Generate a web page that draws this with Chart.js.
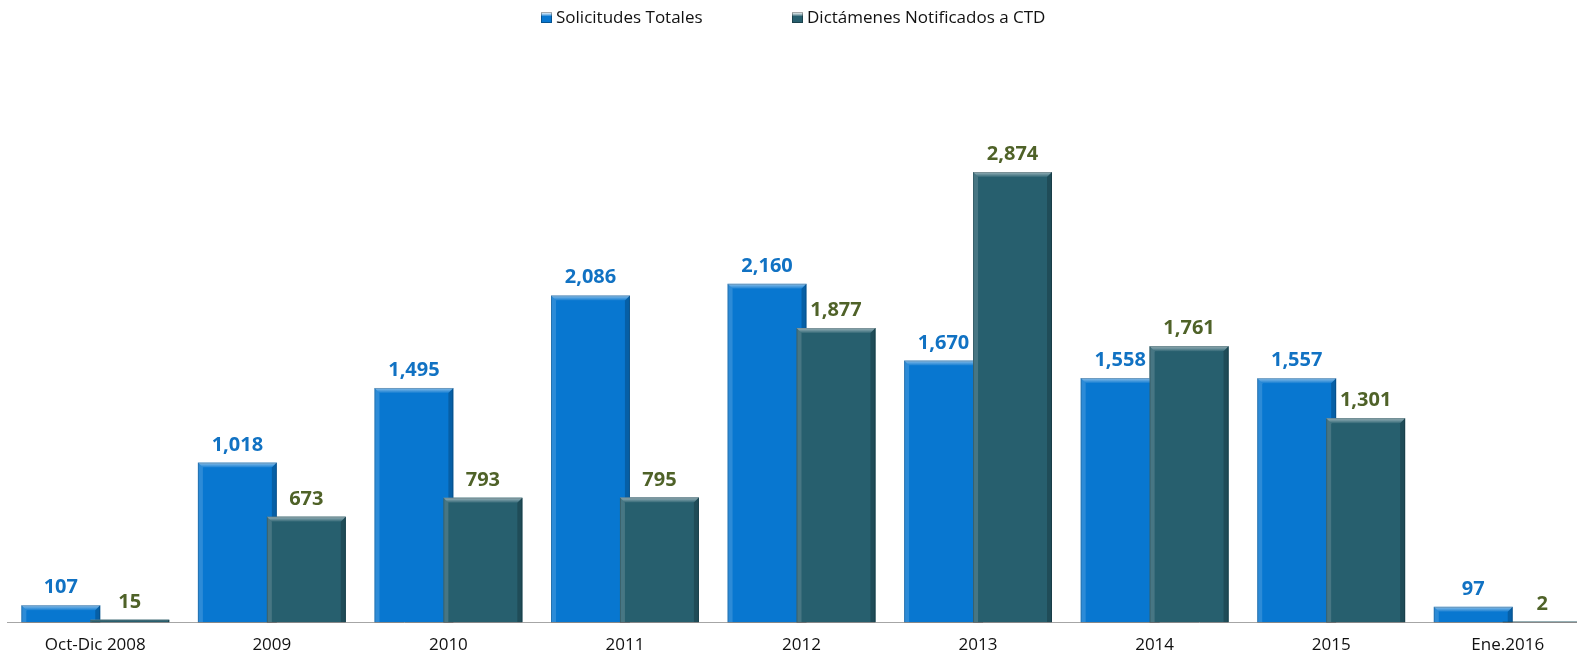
<!DOCTYPE html>
<html>
<head>
<meta charset="utf-8">
<script src="https://cdn.jsdelivr.net/npm/chart.js@4/dist/chart.umd.min.js"></script>
<style>
  html, body { margin:0; padding:0; background:#fff; overflow:hidden; }
  #wrap { position:relative; width:1600px; height:661px; }
</style>
</head>
<body>
<div id="wrap"><canvas id="chart"></canvas></div>
<script>
// ── data ──
const categories = ['Oct-Dic 2008', '2009', '2010', '2011', '2012', '2013', '2014', '2015', 'Ene.2016'];
const solicitudes = [107, 1018, 1495, 2086, 2160, 1670, 1558, 1557, 97];
const dictamenes = [15, 673, 793, 795, 1877, 2874, 1761, 1301, 2];
const seriesNames = ['Solicitudes Totales', 'Dictámenes Notificados a CTD'];

const BLUE = '#0877d0';
const TEAL = '#275f6e';
const LABEL_COLORS = ['#1172c3', '#4f6228'];
const FONT = "'Open Sans', sans-serif";

const fmt = n => n.toLocaleString('en-US');

function bevel(ctx, bar) {
  const left = bar.x - bar.width / 2, right = bar.x + bar.width / 2;
  const top = bar.y, h = bar.base - bar.y;
  if (h <= 0) return;
  const b = Math.min(5, h / 2);
  ctx.save();
  // top highlight
  let g = ctx.createLinearGradient(0, top, 0, top + b);
  g.addColorStop(0, 'rgba(255,255,255,0.55)');
  g.addColorStop(1, 'rgba(255,255,255,0.05)');
  ctx.fillStyle = g;
  ctx.beginPath();
  ctx.moveTo(left, top); ctx.lineTo(right, top);
  ctx.lineTo(right - b, top + b); ctx.lineTo(left + b, top + b);
  ctx.closePath(); ctx.fill();
  // left edge
  ctx.fillStyle = 'rgba(255,255,255,0.15)';
  ctx.beginPath();
  ctx.moveTo(left, top); ctx.lineTo(left + b, top + b);
  ctx.lineTo(left + b, bar.base); ctx.lineTo(left, bar.base);
  ctx.closePath(); ctx.fill();
  // right edge
  ctx.fillStyle = 'rgba(0,0,0,0.2)';
  ctx.beginPath();
  ctx.moveTo(right, top); ctx.lineTo(right - b, top + b);
  ctx.lineTo(right - b, bar.base); ctx.lineTo(right, bar.base);
  ctx.closePath(); ctx.fill();
  ctx.strokeStyle = 'rgba(0,0,0,0.18)';
  ctx.lineWidth = 1;
  ctx.strokeRect(left + 0.5, top + 0.5, bar.width - 1, h);
  ctx.restore();
}

// bevel on every bar; the second series is redrawn so it overlaps the first
const bevelPlugin = {
  id: 'bevel',
  afterDatasetsDraw(chart) {
    const ctx = chart.ctx;
    chart.getDatasetMeta(0).data.forEach(bar => bevel(ctx, bar));
    chart.getDatasetMeta(1).data.forEach(bar => {
      bar.draw(ctx);
      bevel(ctx, bar);
    });
  }
};

// value labels above bars
const valueLabels = {
  id: 'valueLabels',
  afterDatasetsDraw(chart) {
    const ctx = chart.ctx;
    ctx.save();
    ctx.font = 'bold 20px ' + FONT;
    ctx.textAlign = 'center';
    ctx.textBaseline = 'alphabetic';
    chart.data.datasets.forEach((ds, i) => {
      ctx.fillStyle = LABEL_COLORS[i];
      chart.getDatasetMeta(i).data.forEach((bar, j) => {
        ctx.fillText(fmt(ds.data[j]), bar.x, bar.y - 12);
      });
    });
    ctx.restore();
  }
};

// legend across the top
const topLegend = {
  id: 'topLegend',
  afterDraw(chart) {
    const ctx = chart.ctx;
    const items = [
      { x: 541, color: BLUE, text: seriesNames[0] },
      { x: 792, color: TEAL, text: seriesNames[1] }
    ];
    ctx.save();
    ctx.font = '17px ' + FONT;
    ctx.textBaseline = 'alphabetic';
    items.forEach(it => {
      const g = ctx.createLinearGradient(0, 12, 0, 23);
      g.addColorStop(0, 'rgba(255,255,255,0.6)');
      g.addColorStop(0.4, it.color);
      g.addColorStop(1, it.color);
      ctx.fillStyle = g;
      ctx.fillRect(it.x, 12, 11, 11);
      ctx.strokeStyle = 'rgba(0,0,0,0.3)';
      ctx.strokeRect(it.x + 0.5, 12.5, 10, 10);
      ctx.fillStyle = '#111';
      ctx.fillText(it.text, it.x + 15, 23);
    });
    ctx.restore();
  }
};

new Chart(document.getElementById('chart'), {
  type: 'bar',
  data: {
    labels: categories,
    datasets: [
      { label: seriesNames[0], data: solicitudes, backgroundColor: BLUE,
        categoryPercentage: 0.781, barPercentage: 1.145 },
      { label: seriesNames[1], data: dictamenes, backgroundColor: TEAL,
        categoryPercentage: 0.781, barPercentage: 1.145 }
    ]
  },
  options: {
    responsive: true,
    maintainAspectRatio: false,
    animation: false,
    layout: { padding: { left: 7, right: 4, top: 74, bottom: 0 } },
    plugins: { legend: { display: false }, tooltip: { enabled: false } },
    scales: {
      x: {
        grid: { display: false, drawTicks: false },
        border: { display: true, color: '#a6a6a6', width: 1 },
        ticks: { color: '#111', font: { family: FONT, size: 17 }, padding: 13, maxRotation: 0 },
        afterFit(scale) { scale.height = 39; }
      },
      y: { display: false, min: 0, max: 3500 }
    }
  },
  plugins: [bevelPlugin, valueLabels, topLegend]
});
</script>
</body>
</html>
